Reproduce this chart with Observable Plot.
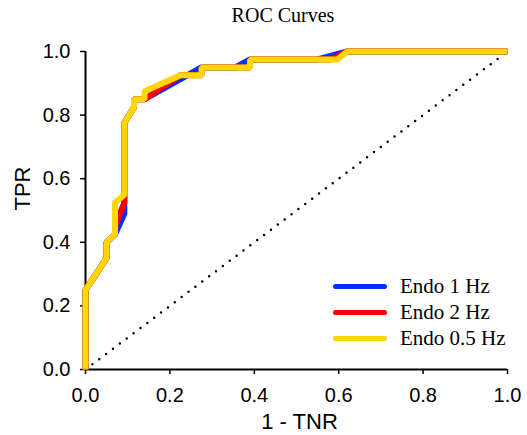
<!DOCTYPE html>
<html><head><meta charset="utf-8">
<script src="https://cdn.jsdelivr.net/npm/d3@7"></script>
<script src="https://cdn.jsdelivr.net/npm/@observablehq/plot@0.6"></script>
<style>
body{margin:0;background:#fff;}
#wrap{position:relative;width:527px;height:435px;}
#title{position:absolute;left:183px;width:200px;top:4px;text-align:center;font-family:"Liberation Serif","Times New Roman",serif;font-size:20px;color:#000;}
#legend{position:absolute;left:333px;top:273px;font-family:"Liberation Serif","Times New Roman",serif;font-size:21px;color:#000;}
.row{display:flex;align-items:center;height:26px;}
.sw{width:54px;height:5px;border-radius:3px;margin-right:13px;}
</style></head>
<body>
<div id="wrap"><div id="title">ROC Curves</div><div id="legend"></div></div>
<script>
const titleText = "ROC Curves";
const xLabel = "1 - TNR";
const yLabel = "TPR";
const xTicks = [0, 0.2, 0.4, 0.6, 0.8, 1.0];
const yTicks = [0, 0.2, 0.4, 0.6, 0.8, 1.0];
const seriesNames = ["Endo 1 Hz", "Endo 2 Hz", "Endo 0.5 Hz"];
const seriesColors = ["#0030ff", "#ff0000", "#ffd700"];

// Endo 1 Hz
const fpr1 = [0, 0, 0.05, 0.05, 0.07, 0.092, 0.092, 0.115, 0.115, 0.14, 0.275, 0.355, 0.39, 0.55, 0.62, 1.0];
const tpr1 = [0, 0.25, 0.35, 0.40, 0.425, 0.49, 0.775, 0.825, 0.85, 0.85, 0.95, 0.95, 0.975, 0.975, 1.0, 1.0];
// Endo 2 Hz
const fpr2 = [0, 0, 0.05, 0.05, 0.07, 0.07, 0.092, 0.092, 0.115, 0.115, 0.14, 0.225, 0.275, 0.275, 0.39, 0.39, 0.58, 0.62, 1.0];
const tpr2 = [0, 0.25, 0.35, 0.40, 0.425, 0.45, 0.525, 0.775, 0.825, 0.85, 0.85, 0.925, 0.925, 0.95, 0.95, 0.975, 0.975, 1.0, 1.0];
// Endo 0.5 Hz
const fpr05 = [0, 0, 0.05, 0.05, 0.07, 0.07, 0.092, 0.092, 0.115, 0.115, 0.14, 0.14, 0.225, 0.275, 0.275, 0.39, 0.39, 0.597, 0.62, 1.0];
const tpr05 = [0, 0.25, 0.35, 0.40, 0.425, 0.525, 0.55, 0.775, 0.825, 0.85, 0.85, 0.875, 0.925, 0.925, 0.95, 0.95, 0.975, 0.975, 1.0, 1.0];

const chanceX = [0, 1];
const chanceY = [0, 1];

const seriesFpr = [fpr1, fpr2, fpr05];
const seriesTpr = [tpr1, tpr2, tpr05];
const rows = seriesNames.flatMap((name, i) =>
  seriesFpr[i].map((f, j) => ({series: name, fpr: f, tpr: seriesTpr[i][j]})));
const chance = chanceX.map((x, i) => ({x, y: chanceY[i]}));

document.getElementById("title").textContent = titleText;

const chart = Plot.plot({
  width: 527, height: 435,
  marginLeft: 85, marginRight: 20, marginTop: 51, marginBottom: 66,
  style: {fontFamily: '"Liberation Sans", Arial, sans-serif', fontSize: "20px", color: "#000", background: "transparent", overflow: "visible"},
  x: {domain: [0, 1]},
  y: {domain: [0, 1]},
  color: {domain: seriesNames, range: seriesColors},
  marks: [
    Plot.axisX(xTicks, {tickSize: 5, tickPadding: 13, strokeWidth: 1.5, tickFormat: d3.format(".1f"), label: null, fontSize: 20}),
    Plot.axisY(yTicks, {tickSize: 5, tickPadding: 10, strokeWidth: 1.5, tickFormat: d3.format(".1f"), label: null, fontSize: 20}),
    Plot.ruleY([0], {stroke: "#000", strokeWidth: 2}),
    Plot.ruleX([0], {stroke: "#000", strokeWidth: 2}),
    Plot.text([xLabel], {frameAnchor: "bottom", dx: 3, dy: 52, fontSize: 22, lineAnchor: "middle"}),
    Plot.text([yLabel], {frameAnchor: "left", rotate: -90, dx: -63, fontSize: 22, lineAnchor: "middle"}),
    Plot.line(chance, {x: "x", y: "y", stroke: "#000", strokeWidth: 2.5, strokeDasharray: "0 8.6", strokeLinecap: "round"}),
    Plot.line(rows, {x: "fpr", y: "tpr", z: "series", stroke: "series", strokeWidth: 6, strokeLinejoin: "miter", strokeLinecap: "butt"})
  ]
});
const wrap = document.getElementById("wrap");
chart.style.position = "absolute";
chart.style.left = "0";
chart.style.top = "0";
wrap.insertBefore(chart, wrap.firstChild);

const legend = document.getElementById("legend");
seriesNames.forEach((name, i) => {
  const row = document.createElement("div");
  row.className = "row";
  const sw = document.createElement("span");
  sw.className = "sw";
  sw.style.background = seriesColors[i];
  const lab = document.createElement("span");
  lab.textContent = name;
  row.appendChild(sw);
  row.appendChild(lab);
  legend.appendChild(row);
});
</script>
</body></html>
